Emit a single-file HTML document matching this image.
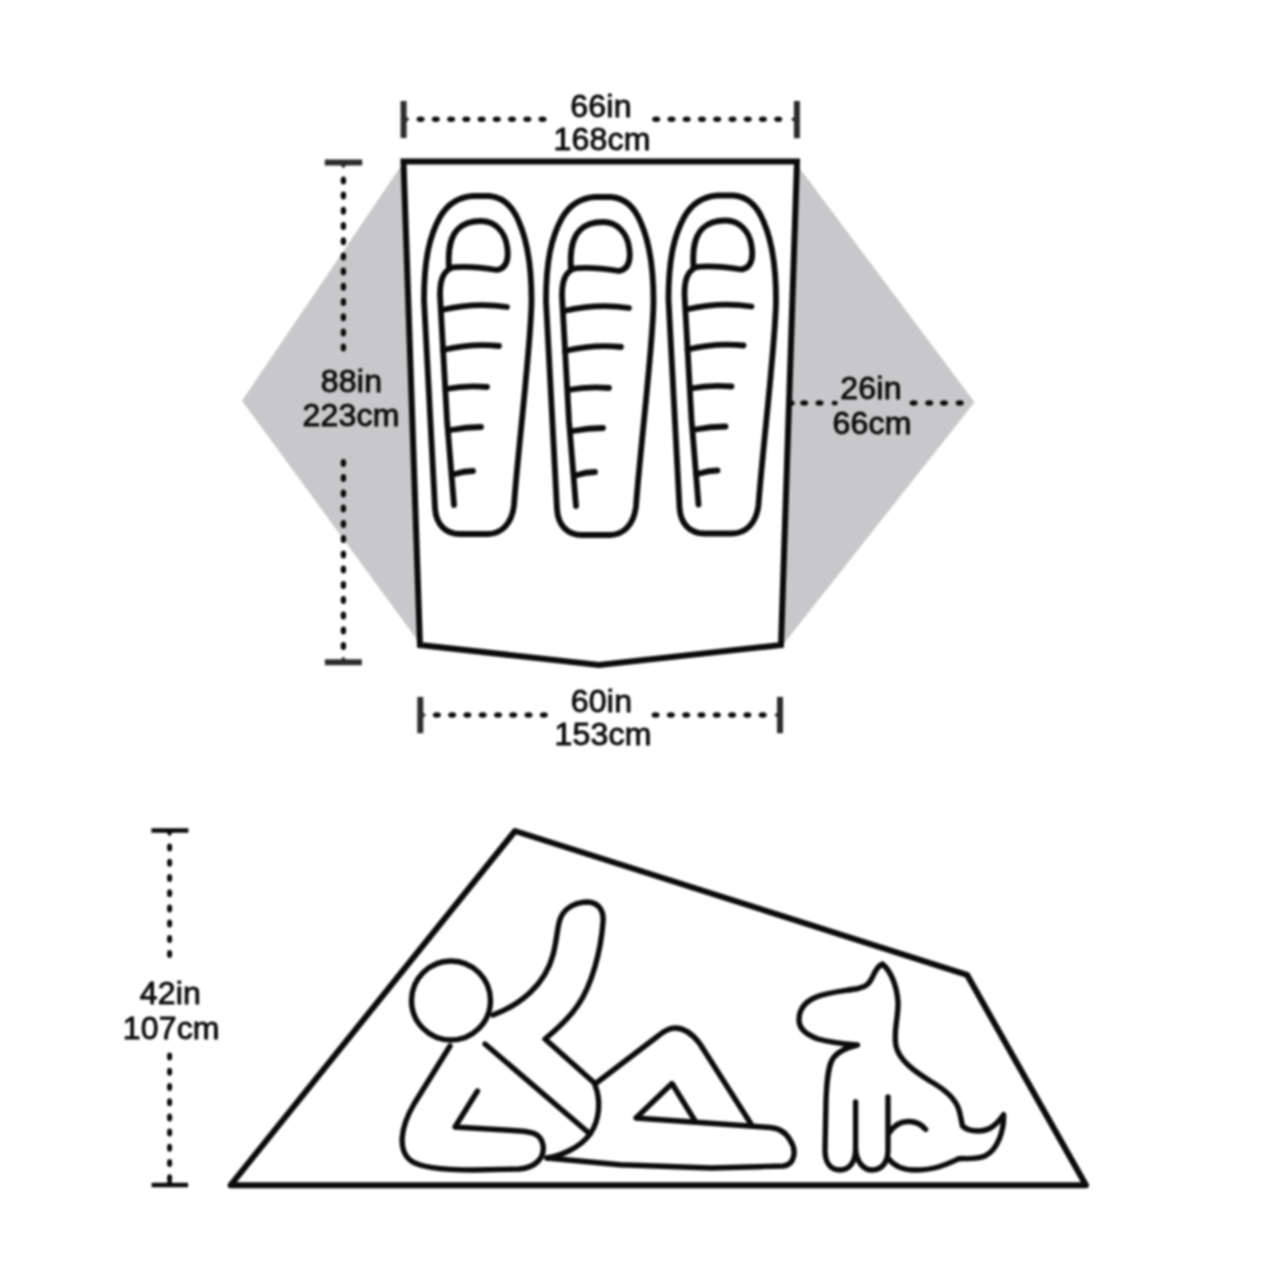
<!DOCTYPE html>
<html><head><meta charset="utf-8"><title>Tent floor plan</title>
<style>
html,body{margin:0;padding:0;background:#fff;width:1280px;height:1280px;overflow:hidden}
svg{display:block;filter:blur(0.8px)}
text{font-family:"Liberation Sans",sans-serif;font-size:32px;fill:#0b0b0b;letter-spacing:0.2px;stroke:#0b0b0b;stroke-width:0.9px}
</style></head>
<body>
<svg width="1280" height="1280" viewBox="0 0 1280 1280">
<defs>
<g id="bag" fill="none" stroke="#0b0b0b" stroke-width="5.8" stroke-linecap="round" stroke-linejoin="round">
  <path d="M473 196 L489 196 C503 197 513 207 519 222 C526 238 531.5 265 531.5 300 C531.5 340 518 450 514 505 C512 525 500 534 488 534 L460 534 C446 534 436 525 435 508 L424 300 C424 258 430 235 440 217 C447 205 458 197 473 196 Z"/>
  <path d="M449 268 C448 252 449 238 458 229 C465 222 473 221 481 221 C495 221 505 232 507 246 C509 258 507 268 497 270 C485 268 465 265 449 268"/>
  <path d="M451 268 C443 272 440 280 440 295 L447 420 L454 505"/>
  <path d="M442 310 Q475 302 507 307"/>
  <path d="M443 350 Q472 343 499 346"/>
  <path d="M446 389 Q466 385 487 387"/>
  <path d="M451 430 Q466 427 481 427"/>
  <path d="M455 474 Q464 471 473 471"/>
</g>
</defs>

<!-- TOP DIAGRAM -->
<polygon points="403,163 242,400.8 419.5,643 782,646 974.5,402.2 798,166" fill="#c8c8ca"/>
<polygon points="403.5,161.5 797,161.5 781,645 599,665 420,645" fill="#fff" stroke="#0b0b0b" stroke-width="6" stroke-linejoin="miter"/>

<use href="#bag"/>
<use href="#bag" transform="translate(122,1)"/>
<use href="#bag" transform="translate(244.5,-0.5)"/>

<!-- top dimension -->
<g stroke="#2c2c2c" fill="none">
  <line x1="403.6" y1="101" x2="403.6" y2="138" stroke-width="6"/>
  <line x1="796.9" y1="101" x2="796.9" y2="138.2" stroke-width="6"/>
  <line x1="420.3" y1="696.9" x2="420.3" y2="733.2" stroke-width="6"/>
  <line x1="780" y1="696.9" x2="780" y2="733.2" stroke-width="6"/>
  <line x1="324.8" y1="162.6" x2="362.2" y2="162.6" stroke-width="6"/>
  <line x1="324.9" y1="662.3" x2="361.8" y2="662.3" stroke-width="6"/>
  <path d="M405 115.5 L409.5 119.2 L405 122.9Z M795.5 115.5 L791 119.2 L795.5 122.9Z M421.5 711.3 L426 715 L421.5 718.7Z M778.8 711.3 L774.3 715 L778.8 718.7Z M339.7 164 L343.4 168.5 L347.1 164Z M339.7 661 L343.4 656.5 L347.1 661Z" fill="#2c2c2c" stroke="none"/>
</g>
<g fill="#0b0b0b">
<ellipse cx="420.6" cy="119.2" rx="4.0" ry="2.75"/>
<ellipse cx="435.8" cy="119.2" rx="4.0" ry="2.75"/>
<ellipse cx="451.1" cy="119.2" rx="4.0" ry="2.75"/>
<ellipse cx="466.3" cy="119.2" rx="4.0" ry="2.75"/>
<ellipse cx="481.6" cy="119.2" rx="4.0" ry="2.75"/>
<ellipse cx="496.8" cy="119.2" rx="4.0" ry="2.75"/>
<ellipse cx="512.0" cy="119.2" rx="4.0" ry="2.75"/>
<ellipse cx="527.3" cy="119.2" rx="4.0" ry="2.75"/>
<ellipse cx="542.5" cy="119.2" rx="4.0" ry="2.75"/>
<ellipse cx="656.2" cy="119.2" rx="4.0" ry="2.75"/>
<ellipse cx="671.5" cy="119.2" rx="4.0" ry="2.75"/>
<ellipse cx="686.7" cy="119.2" rx="4.0" ry="2.75"/>
<ellipse cx="702.0" cy="119.2" rx="4.0" ry="2.75"/>
<ellipse cx="717.2" cy="119.2" rx="4.0" ry="2.75"/>
<ellipse cx="732.5" cy="119.2" rx="4.0" ry="2.75"/>
<ellipse cx="747.7" cy="119.2" rx="4.0" ry="2.75"/>
<ellipse cx="762.9" cy="119.2" rx="4.0" ry="2.75"/>
<ellipse cx="778.2" cy="119.2" rx="4.0" ry="2.75"/>
<ellipse cx="436.9" cy="715" rx="4.0" ry="2.75"/>
<ellipse cx="452.2" cy="715" rx="4.0" ry="2.75"/>
<ellipse cx="467.4" cy="715" rx="4.0" ry="2.75"/>
<ellipse cx="482.7" cy="715" rx="4.0" ry="2.75"/>
<ellipse cx="498.0" cy="715" rx="4.0" ry="2.75"/>
<ellipse cx="513.2" cy="715" rx="4.0" ry="2.75"/>
<ellipse cx="528.5" cy="715" rx="4.0" ry="2.75"/>
<ellipse cx="543.8" cy="715" rx="4.0" ry="2.75"/>
<ellipse cx="655.6" cy="715" rx="4.0" ry="2.75"/>
<ellipse cx="670.9" cy="715" rx="4.0" ry="2.75"/>
<ellipse cx="686.2" cy="715" rx="4.0" ry="2.75"/>
<ellipse cx="701.5" cy="715" rx="4.0" ry="2.75"/>
<ellipse cx="716.8" cy="715" rx="4.0" ry="2.75"/>
<ellipse cx="732.1" cy="715" rx="4.0" ry="2.75"/>
<ellipse cx="747.4" cy="715" rx="4.0" ry="2.75"/>
<ellipse cx="762.7" cy="715" rx="4.0" ry="2.75"/>
<ellipse cx="343.4" cy="180.4" rx="2.75" ry="4.0"/>
<ellipse cx="343.4" cy="195.6" rx="2.75" ry="4.0"/>
<ellipse cx="343.4" cy="210.8" rx="2.75" ry="4.0"/>
<ellipse cx="343.4" cy="226.0" rx="2.75" ry="4.0"/>
<ellipse cx="343.4" cy="241.2" rx="2.75" ry="4.0"/>
<ellipse cx="343.4" cy="256.4" rx="2.75" ry="4.0"/>
<ellipse cx="343.4" cy="271.6" rx="2.75" ry="4.0"/>
<ellipse cx="343.4" cy="286.8" rx="2.75" ry="4.0"/>
<ellipse cx="343.4" cy="302.0" rx="2.75" ry="4.0"/>
<ellipse cx="343.4" cy="317.2" rx="2.75" ry="4.0"/>
<ellipse cx="343.4" cy="332.4" rx="2.75" ry="4.0"/>
<ellipse cx="343.4" cy="347.6" rx="2.75" ry="4.0"/>
<ellipse cx="343.4" cy="462.9" rx="2.75" ry="4.0"/>
<ellipse cx="343.4" cy="478.1" rx="2.75" ry="4.0"/>
<ellipse cx="343.4" cy="493.4" rx="2.75" ry="4.0"/>
<ellipse cx="343.4" cy="508.6" rx="2.75" ry="4.0"/>
<ellipse cx="343.4" cy="523.9" rx="2.75" ry="4.0"/>
<ellipse cx="343.4" cy="539.1" rx="2.75" ry="4.0"/>
<ellipse cx="343.4" cy="554.4" rx="2.75" ry="4.0"/>
<ellipse cx="343.4" cy="569.6" rx="2.75" ry="4.0"/>
<ellipse cx="343.4" cy="584.9" rx="2.75" ry="4.0"/>
<ellipse cx="343.4" cy="600.1" rx="2.75" ry="4.0"/>
<ellipse cx="343.4" cy="615.4" rx="2.75" ry="4.0"/>
<ellipse cx="343.4" cy="630.6" rx="2.75" ry="4.0"/>
<ellipse cx="343.4" cy="645.9" rx="2.75" ry="4.0"/>
<ellipse cx="804.2" cy="403.1" rx="4.0" ry="2.75"/>
<ellipse cx="819.5" cy="403.1" rx="4.0" ry="2.75"/>
<ellipse cx="913.6" cy="403.1" rx="4.0" ry="2.75"/>
<ellipse cx="929.2" cy="403.1" rx="4.0" ry="2.75"/>
<ellipse cx="944" cy="403.1" rx="4.0" ry="2.75"/>
<ellipse cx="959.7" cy="403.1" rx="4.0" ry="2.75"/>
<ellipse cx="834.7" cy="403.1" rx="3.0" ry="2.3"/>
<ellipse cx="791.5" cy="403.1" rx="3.2" ry="2.6"/>
</g>

<text x="601" y="117" text-anchor="middle">66in</text>
<text x="602" y="150" text-anchor="middle">168cm</text>
<text x="351.5" y="392" text-anchor="middle">88in</text>
<text x="351" y="426" text-anchor="middle">223cm</text>
<text x="871" y="399" text-anchor="middle">26in</text>
<text x="872" y="434" text-anchor="middle">66cm</text>
<text x="601.5" y="712" text-anchor="middle">60in</text>
<text x="603" y="745" text-anchor="middle">153cm</text>

<!-- BOTTOM DIAGRAM -->
<polygon points="230.5,1185.3 515,831 967,974.8 1086,1185.3" fill="none" stroke="#0b0b0b" stroke-width="6" stroke-linejoin="round"/>
<g stroke="#0b0b0b" fill="none">
  <line x1="151.4" y1="830.5" x2="188.4" y2="830.5" stroke-width="4.3"/>
  <line x1="151.6" y1="1185" x2="188.1" y2="1185" stroke-width="4.3"/>
  <path d="M166.3 832 L169.6 836.5 L172.9 832Z M166.3 1183.5 L169.6 1179 L172.9 1183.5Z" fill="#0b0b0b" stroke="none"/>
</g>
<g fill="#0b0b0b">
<ellipse cx="169.6" cy="847.5" rx="2.6" ry="4.0"/>
<ellipse cx="169.6" cy="862.7" rx="2.6" ry="4.0"/>
<ellipse cx="169.6" cy="878.0" rx="2.6" ry="4.0"/>
<ellipse cx="169.6" cy="893.2" rx="2.6" ry="4.0"/>
<ellipse cx="169.6" cy="908.4" rx="2.6" ry="4.0"/>
<ellipse cx="169.6" cy="923.6" rx="2.6" ry="4.0"/>
<ellipse cx="169.6" cy="938.9" rx="2.6" ry="4.0"/>
<ellipse cx="169.6" cy="954.1" rx="2.6" ry="4.0"/>
<ellipse cx="169.6" cy="1056.6" rx="2.6" ry="4.0"/>
<ellipse cx="169.6" cy="1071.8" rx="2.6" ry="4.0"/>
<ellipse cx="169.6" cy="1087.0" rx="2.6" ry="4.0"/>
<ellipse cx="169.6" cy="1102.2" rx="2.6" ry="4.0"/>
<ellipse cx="169.6" cy="1117.4" rx="2.6" ry="4.0"/>
<ellipse cx="169.6" cy="1132.6" rx="2.6" ry="4.0"/>
<ellipse cx="169.6" cy="1147.8" rx="2.6" ry="4.0"/>
<ellipse cx="169.6" cy="1163.0" rx="2.6" ry="4.0"/>
<ellipse cx="169.6" cy="1178.2" rx="2.6" ry="4.0"/>
</g>
<text x="170.3" y="1004" text-anchor="middle">42in</text>
<text x="171.2" y="1039" text-anchor="middle">107cm</text>

<g fill="none" stroke="#0b0b0b" stroke-width="5.4" stroke-linecap="round" stroke-linejoin="round">
  <!-- person -->
  <circle cx="451" cy="1000.5" r="39.5"/>
  <path d="M493 1015 C520 1005 545 985 553 955 C558 935 557 925 561 917 C566 906 578 902 588 902 C600 903 604 912 603 922 C601 950 592 985 578 1005 C568 1020 556 1030 545 1039 L595 1083.5"/>
  <path d="M595 1084 L658 1036 C664 1031 669 1028 675 1028 C684 1028 692 1033 700 1044 L751 1124"/>
  <path d="M595 1085 C601 1100 600 1120 590 1134 C580 1148 560 1156 547 1158"/>
  <path d="M485 1044 L590 1134"/>
  <path d="M450 1046 L414 1104 C400 1128 398 1150 410 1160 C418 1167 440 1170 474 1170 L519 1169 C535 1168 545 1158 543 1145 C541 1135 535 1132 520 1131 L455 1127 L477.5 1091"/>
  <path d="M547 1158 L620 1164.7 L711 1168 L783 1166 C795 1165 797 1150 790 1140 C785 1131 778 1128 770 1127.5 L636 1118 L672 1083.5 L694.5 1120"/>
  <!-- dog -->
  <path d="M855.6 1102 L855.6 1150 C855 1164 848 1170 840 1170 C830 1170 825 1162 825 1150 L826 1100 C827 1075 829 1063 834 1057 C840 1050 848 1047 857.5 1045 C845 1044 828 1042 818 1039 C807 1035 799 1029 799 1020 C799 1010 805 1002 815 997.5 C828 992 845 991 858 988.5 C866 987 869 984 872 978 C875 971 878 966 882.3 964 C890 970 897 985 898 1002 C898.5 1018 893 1032 896 1046 C899 1060 914 1071 930 1081 C946 1090 956 1100 959 1110 C961 1117 961.5 1122 962.5 1126 C970 1133 985 1132 992 1127 C998 1123 1002 1117 1003.6 1114.7 C1004 1130 998 1150 985 1156 C975 1160 965 1158 958.75 1158.75 C945 1165 935 1170 915 1170 C900 1170 893 1165 888 1158"/>
  <path d="M855.6 1150 C857 1163 864 1170 872 1170 C882 1170 888 1162 888 1150 L888 1097"/>
  <path d="M889.4 1132.5 C895 1124 902 1121 910 1121.5 C917 1122 922 1125 925.6 1129.4"/>
</g>
</svg>
</body></html>
